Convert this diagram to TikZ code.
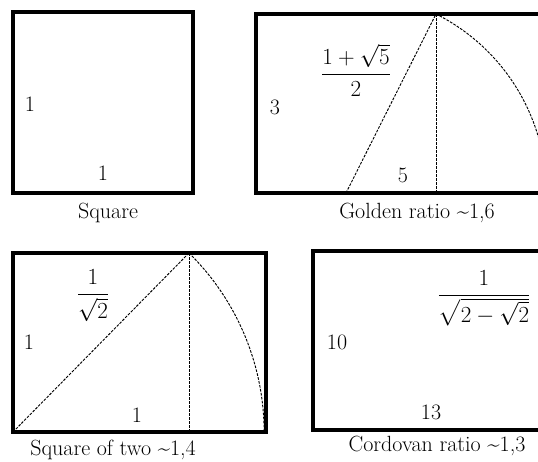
\documentclass[tikz,border=0pt]{standalone}
\usepackage{amsmath,amssymb}
\usepackage{tikz}

\begin{document}
\begin{tikzpicture}[
  x=0.75pt, y=0.75pt,
  frame/.style={draw, line width=2.3pt},
  guide/.style={line width=0.7pt, dash pattern=on 2pt off 1pt},
  lbl/.style={font=\fontsize{16.5}{19}\selectfont, inner sep=0pt, anchor=center},
  caption/.style={lbl},
]
\useasboundingbox (0,0) rectangle (538,461);
\clip (0,0) rectangle (538,461);

% Square
\draw[frame] (13,268) rectangle (193,449);
\node[lbl] (sqside) at (30,357) {1};
\node[lbl] (sqbase) at (103,288) {1};
\node[caption] (sqcap) at (108,248) {Square};

% Golden ratio
\coordinate (gmid) at (346,268);
\coordinate (gtop) at (436,447);
\coordinate (gfoot) at (436,268);
\draw[frame] (256,268) rectangle (546,447);
\draw[guide] (gmid) -- (gtop);
\draw[guide] (gtop) -- (gfoot);
\draw[guide] (gtop) arc[start angle=63.3, end angle=0, radius=150.3pt];
\node[lbl] (gfrac) at (356,391) {$\dfrac{1+\sqrt{5}}{2}$};
\node[lbl] (gside) at (275,354) {3};
\node[lbl] (gbase) at (403,286) {5};
\node[caption] (gcap) at (417,248) {Golden ratio \textasciitilde1,6};

% Square of two
\coordinate (tcorner) at (13,29);
\coordinate (ttop) at (189,208);
\coordinate (tfoot) at (189,29);
\draw[frame] (13,29) rectangle (266,208);
\draw[guide] (tcorner) -- (ttop);
\draw[guide] (ttop) -- (tfoot);
\draw[guide] (ttop) arc[start angle=45.5, end angle=0, radius=188.3pt];
\node[lbl] (tfrac) at (93,165) {$\dfrac{1}{\sqrt{2}}$};
\node[lbl] (tside) at (29,119) {1};
\node[lbl] (tbase) at (137,46) {1};
\node[caption] (tcap) at (113,11) {Square of two \textasciitilde1,4};

% Cordovan ratio
\draw[frame] (313,31) rectangle (546,210);
\node[lbl] (cfrac) at (484,163) {$\dfrac{1}{\sqrt{2-\sqrt{2}}}$};
\node[lbl] (cside) at (337,119) {10};
\node[lbl] (cbase) at (431,49) {13};
\node[caption] (ccap) at (437,15) {Cordovan ratio \textasciitilde1,3};

\end{tikzpicture}
\end{document}
